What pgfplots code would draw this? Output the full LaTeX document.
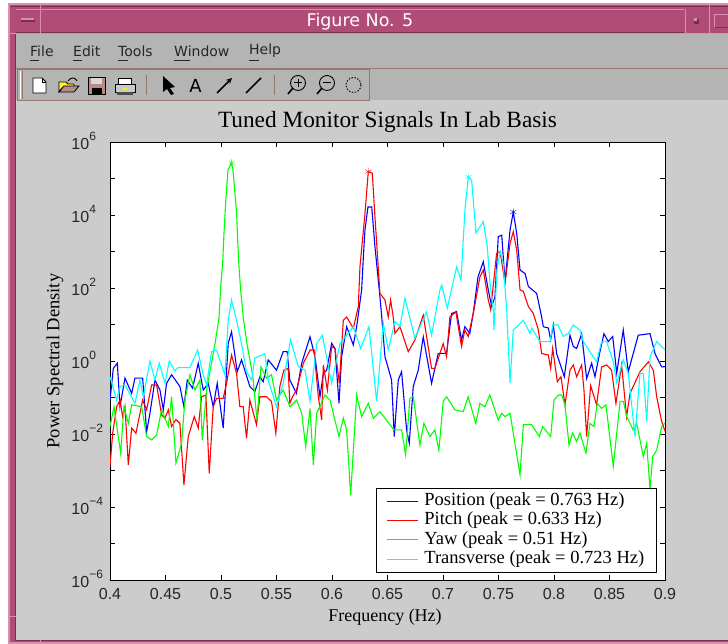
\documentclass[border=0pt]{standalone}
\usepackage{pgfplots}
\pgfplotsset{compat=1.18}
\usepackage{fontspec}
\setmainfont{Liberation Serif}
\newfontfamily\tickfont{Liberation Sans}
\newfontfamily\uifont{DejaVu Sans}
\definecolor{pinkbar}{HTML}{B04C75}
\definecolor{pinkdark}{HTML}{7A2E50}
\definecolor{pinklight}{HTML}{D98FB0}
\definecolor{menugray}{HTML}{B4B4B4}
\definecolor{panelgray}{HTML}{CCCCCC}
\definecolor{barline}{HTML}{96786E}
\definecolor{pureblue}{RGB}{0,0,255}
\definecolor{purered}{RGB}{255,0,0}
\definecolor{puregreen}{RGB}{0,255,0}
\definecolor{purecyan}{RGB}{0,255,255}
\newcommand{\tl}[1]{\makebox[31pt][l]{10\raisebox{1.05ex}{\fontsize{12}{12}\selectfont #1}}}
\begin{document}
\begin{tikzpicture}[x=1pt,y=1pt]
\path[use as bounding box] (0,0) rectangle (728,644);
\begin{scope}[y=-1pt,shift={(0pt,644pt)}]
\fill[white] (0,0) rectangle (728,644);
\fill[pinklight] (8,3) rectangle (728,644);
\fill[pinkbar] (10,5) rectangle (728,642);
\fill[panelgray] (16,33) rectangle (728,640);
\fill[menugray] (16,33) rectangle (728,101);
\draw[pinklight,line width=.8pt] (16,33) -- (728,33);
\draw[pinkdark,line width=.8pt] (16,32) -- (684,32) (15.5,33) -- (15.5,640) -- (728,640);
\draw[pinkdark,line width=.6pt] (10,6.5) -- (728,6.5);
\draw[pinklight,line width=.8pt] (16,9) -- (684,9) (40,3) -- (40,33) (685,9) -- (685,33) (709,3) -- (709,33) (8,33)--(16,33) (8,616)--(16,616) (40,640)--(40,644);
\fill[pinkdark] (21,19) rectangle (35,22);
\fill[pinklight] (21,18) rectangle (34,20.5);
\fill[pinkdark] (694,19) rectangle (699,24);
\fill[pinklight] (694,18) rectangle (697,21);
\draw[pinklight,line width=.8pt] (714,27) -- (714,14) -- (728,14);
\draw[pinkdark,line width=.8pt] (715,27) -- (728,27);
\node[white,font=\uifont\fontsize{17.5}{17.5}\selectfont] at (360,22) {Figure No. 5};
% menu
\begin{scope}[every node/.style={anchor=west,inner sep=0pt,font=\uifont\fontsize{14}{14}\selectfont,text=black!85}]
\node at (30,51) {File};
\node at (73,51) {Edit};
\node at (118,51) {Tools};
\node at (174,51) {Window};
\node at (249,51) {Help};
\end{scope}
\draw[black!85,line width=.8pt] (30,60) -- (39,60) (73,60) -- (82,60) (118,60) -- (128,60) (174,60) -- (190,60) (249,60) -- (259,60);
% toolbar
\draw[barline,line width=.8pt] (16,68.5) -- (728,68.5);
\fill[menugray] (16,69) rectangle (728,100.5);
\fill[panelgray] (16,100.5) rectangle (728,101);
\draw[barline,line width=.8pt] (17.5,69) rectangle (369,100.5);
\draw[barline,line width=.8pt] (146,75) -- (146,95) (274,75) -- (274,95) (22.5,71) -- (22.5,99);
\draw[white,line width=.8pt] (20,71) -- (20,99);
% new
\draw[black,fill=white,line width=.9pt] (33,78) -- (42,78) -- (46,82) -- (46,93) -- (33,93) -- cycle;
\draw[black,line width=.7pt] (42,78) -- (42,82) -- (46,82);
% open
\draw[black,fill=yellow!80!white,line width=.8pt] (59,92) -- (59,82) -- (66,82) -- (68,84) -- (74,84) -- (74,88) -- (62,88) -- cycle;
\draw[black,fill=barline!70!pink,line width=.8pt] (59,92) -- (64,86) -- (79,86) -- (74,92) -- cycle;
\draw[black,line width=.9pt] (68,81) .. controls (71,77) and (75,77) .. (77,81);
% save
\draw[black,fill=barline!70!pink,line width=.9pt] (88,77) rectangle (105,94);
\fill[white!85!black] (91,78) rectangle (102,84);
\fill[black] (92,88) rectangle (102,94);
% print
\draw[black,fill=white,line width=.8pt] (118,78) rectangle (131,84);
\draw[black,fill=menugray!70,line width=.9pt] (115,84) rectangle (135,92);
\fill[black!70] (117,92) rectangle (133,95);
\fill[yellow] (123,88) rectangle (127,90);
% arrow
\fill[black] (163,76) -- (175,87) -- (170,88) -- (174,94) -- (171,95) -- (167,89) -- (163,92) -- cycle;
\node[black,font=\uifont\fontsize{18}{18}\selectfont,inner sep=0pt] at (195.5,85.5) {A};
\draw[black,line width=1.6pt,-stealth] (217,93) -- (232,78);
\draw[black,line width=1.6pt] (246,93) -- (261,78);
% zoom
\draw[black,line width=.9pt] (298,83) circle (7.5);
\draw[black,line width=1.6pt] (293,88) -- (288,94);
\draw[black,line width=1pt] (294,83) -- (302,83) (298,79) -- (298,87);
\draw[black,line width=.9pt] (327,83) circle (7.5);
\draw[black,line width=1.6pt] (322,88) -- (317,94);
\draw[black,line width=1pt] (323,83) -- (331,83);
\draw[black,line width=.9pt,dash pattern=on 1.5pt off 1.5pt] (353.5,85) circle (7.5);
\end{scope}
\begin{axis}[
  at={(110pt,64pt)},anchor=south west,
  scale only axis,width=555pt,height=438pt,
  ymode=log,xmin=0.4,xmax=0.9,ymin=1e-6,ymax=1e6,
  axis background/.style={fill=white},
  axis line style={black,line width=.8pt},
  tick align=inside,major tick length=5pt,
  tick style={black,line width=.7pt},
  yminorticks=false,
  xtick={0.4,0.45,0.5,0.55,0.6,0.65,0.7,0.75,0.8,0.85,0.9},
  xticklabels={0.4,0.45,0.5,0.55,0.6,0.65,0.7,0.75,0.8,0.85,0.9},
  ytick={1e-6,1e-5,1e-4,1e-3,1e-2,1e-1,1,1e1,1e2,1e3,1e4,1e5,1e6},
  yticklabels={\tl{−6},,\tl{−4},,\tl{−2},,\tl{0},,\tl{2},,\tl{4},,\tl{6}},
  ticklabel style={font=\tickfont\fontsize{16}{16}\selectfont,text=black!85},
  xticklabel style={yshift=-5pt},
  yticklabel style={xshift=-4pt,yshift=1pt},
  title={\fontsize{23.3}{23.3}\selectfont Tuned Monitor Signals In Lab Basis},
  xlabel={\fontsize{18}{18}\selectfont Frequency (Hz)},
  ylabel={\fontsize{18.5}{18.5}\selectfont Power Spectral Density},
  xlabel style={at={(axis description cs:0.4955,-0.0845)},anchor=center},
  ylabel style={at={(axis description cs:-0.0991,0.5)},anchor=center},
  legend style={at={(0.985,0.0167)},anchor=south east,draw=black,fill=white,line width=.8pt,
    font=\fontsize{18.5}{18.5}\selectfont,row sep=2.7pt,column sep=4pt,inner xsep=10pt,inner ysep=5pt,
    nodes={inner ysep=0pt,text height=12.5pt,text depth=4pt}},
  legend cell align=left,
  legend image code/.code={\draw[#1,line width=.9pt] (0pt,0pt) -- (31pt,0pt);},
]
\addplot[pureblue,line width=1.1pt] coordinates {
(.400,.085)(.403,.63)(.4066,.87)(.409,.056)(.4135,.34)(.4195,.13)(.4225,.34)(.4294,.34)(.433,.0115)(.436,.037)(.4405,.30)(.445,.16)(.448,.046)(.451,.245)(.4555,.42)(.463,.20)(.4666,.056)(.4696,.30)(.4744,.18)(.4795,.87)(.484,.16)(.4885,.245)(.493,.056)(.4966,.245)(.502,.0145)(.5065,3.05)(.5095,6.3)(.5146,.51)(.5185,1.07)(.526,.20)(.5305,.145)(.535,.37)(.538,.27)(.5425,1.07)(.55,.56)(.556,1.8)(.5596,1.8)(.562,.30)(.568,.13)(.5727,.87)(.5802,4.6)(.5847,1.32)(.5892,.105)(.5922,.46)(.5952,.56)(.5997,3.05)(.6027,2.2)(.6063,.069)(.6087,1.32)(.6132,8.7)(.6192,2.75)(.6222,8.7)(.6267,88)(.6283,740)(.6297,3900)(.6324,1.66e4)(.6358,1.66e4)(.6387,1350)(.6432,57)(.6448,16)(.6477,1.32)(.6537,.30)(.6561,.0085)(.6597,.30)(.6627,.51)(.6672,.013)(.6696,.0056)(.6732,.20)(.6777,.56)(.6822,4.6)(.6897,.245)(.6957,1.62)(.7032,1.62)(.7077,20)(.7122,22.6)(.7167,3.76)(.7197,8.7)(.7242,5.7)(.7273,21)(.7315,200)(.7363,525)(.7408,88)(.7439,31)(.7468,57)(.7498,2570)(.7529,2800)(.7559,150)(.7604,3900)(.7633,1.2e4)(.7664,3170)(.7694,310)(.7739,250)(.7769,110)(.7844,71)(.7889,16)(.7904,8.7)(.7949,8)(.7970,3.8)(.7994,9.7)(.8024,1.6)(.8093,.37)(.8144,5.1)(.8174,2.5)(.8204,2.2)(.8249,5.6)(.8294,.33)(.8339,.87)(.8369,.37)(.8414,1.8)(.8450,5.6)(.8489,3.4)(.8529,4.7)(.8565,.46)(.8624,7.1)(.8669,.51)(.8759,5.1)(.8865,5.6)(.8910,1.6)(.8970,.69)(.9,.7)
};
\addlegendentry{Position (peak = 0.763 Hz)}
\addplot[purered,line width=1.1pt] coordinates {
(.400,.0013)(.4024,.0105)(.406,.056)(.409,.085)(.4114,.03)(.4135,.056)(.4165,.0014)(.4195,.0145)(.4234,.0105)(.4294,.085)(.433,.046)(.4375,.22)(.442,.22)(.4465,.033)(.4495,.027)(.4525,.046)(.4555,.016)(.4594,.025)(.463,.0195)(.4666,.0004)(.4705,.0085)(.4759,.03)(.4795,.0145)(.4825,.105)(.4864,.117)(.4894,.00083)(.493,.056)(.496,.095)(.502,.095)(.505,.245)(.5095,1.46)(.514,.46)(.517,.056)(.520,.056)(.523,.0076)(.526,.085)(.532,.018)(.535,.105)(.541,.105)(.5455,.078)(.5494,.0105)(.553,.20)(.5566,.56)(.5605,.63)(.562,.069)(.5644,.105)(.568,.16)(.5742,.87)(.5802,2)(.5838,2)(.5877,.105)(.5907,.024)(.5922,.78)(.5958,.16)(.5997,2.5)(.6027,2.2)(.6066,.245)(.6102,13)(.6132,16)(.6192,7.9)(.6237,31)(.6252,380)(.6297,1.1e4)(.6327,1.55e5)(.6363,1.4e5)(.6387,8900)(.6432,71)(.6477,47)(.6507,16)(.6528,47)(.6552,16)(.6567,5.7)(.6612,8.7)(.6687,1.8)(.6747,3.76)(.6822,18)(.6897,.63)(.6927,.63)(.7002,3)(.7032,1.3)(.7062,16)(.7116,22)(.7167,2.5)(.7197,7)(.7227,4.7)(.7273,20)(.7333,205)(.7363,310)(.7408,47)(.7430,25)(.7483,890)(.7514,1000)(.7559,135)(.7604,1660)(.7633,3500)(.7664,1100)(.7694,89)(.7724,80)(.7769,31)(.7814,20)(.7859,7.1)(.7889,1.6)(.7949,1.46)(.7970,.63)(.7988,2.2)(.8030,.27)(.8063,.37)(.8099,.063)(.8144,.56)(.8174,.78)(.8204,.37)(.8249,.78)(.8270,.16)(.8294,.0085)(.8330,.21)(.8384,.063)(.8429,.69)(.8474,.78)(.8519,.56)(.8558,.069)(.8609,.78)(.8654,.03)(.8685,.13)(.8775,.51)(.8850,.95)(.8895,.56)(.8925,.105)(.8970,.022)(.9,.012)
};
\addlegendentry{Pitch (peak = 0.633 Hz)}
\addplot[puregreen,line width=1.1pt] coordinates {
(.400,.016)(.4036,.056)(.4096,.003)(.4126,.056)(.4165,.0195)(.4195,.063)(.4285,.056)(.433,.0085)(.4375,.0069)(.442,.0094)(.4465,.046)(.4525,.016)(.4555,.105)(.4594,.0016)(.4645,.0056)(.4675,.085)(.472,.42)(.4765,.16)(.481,.30)(.4831,.0069)(.487,.16)(.4946,3)(.4982,15)(.4997,107)(.5015,480)(.5027,3200)(.5045,3.1e4)(.5063,1.7e5)(.5096,2.7e5)(.5108,1.7e5)(.5141,1.1e4)(.515,2100)(.5162,380)(.5177,89)(.5201,15)(.5234,3)(.5288,.36)(.5324,.024)(.536,.69)(.541,.34)(.5455,.42)(.55,.085)(.556,.16)(.5622,.056)(.5682,.085)(.5727,.037)(.5763,.0045)(.5802,.05)(.5832,.0014)(.5862,.037)(.5937,.117)(.5982,.085)(.6063,.0085)(.6102,.027)(.6132,.013)(.6168,.00021)(.6207,.0195)(.6222,.117)(.6267,.03)(.6327,.069)(.6372,.027)(.6432,.041)(.6522,.018)(.6558,.013)(.6627,.013)(.6663,.0027)(.6702,.095)(.6732,.105)(.6792,.005)(.6828,.0195)(.6882,.0085)(.6927,.013)(.6963,.0036)(.7002,.078)(.7032,.105)(.7107,.046)(.7182,.041)(.7227,.105)(.7296,.0195)(.7332,.069)(.7377,.056)(.7422,.117)(.7498,.024)(.7529,.037)(.7559,.03)(.7604,.037)(.7694,.00076)(.7724,.018)(.7799,.018)(.7868,.0085)(.7898,.016)(.7970,.0085)(.80,.085)(.8039,.117)(.8069,.117)(.8099,.063)(.8135,.005)(.8168,.0107)(.8204,.0062)(.8234,.0107)(.8288,.003)(.8324,.0195)(.8360,.016)(.8390,.069)(.8429,.05)(.8468,.063)(.8534,.0013)(.8595,.078)(.8625,.078)(.8655,.03)(.8714,.013)(.8745,.0195)(.8805,.0024)(.8835,.0056)(.8865,.0003)(.8889,.0024)(.8925,.0036)(.8970,.016)(.9,.02)
};
\addlegendentry{Yaw (peak = 0.51 Hz)}
\addplot[purecyan,line width=1.1pt] coordinates {
(.400,.37)(.406,.085)(.409,.2)(.4135,.22)(.4225,.069)(.427,.3)(.43,.105)(.436,1)(.4405,.3)(.4444,.87)(.4495,.245)(.4534,1)(.4585,.53)(.4615,.66)(.472,.66)(.4789,2)(.484,.42)(.487,.22)(.4915,1.8)(.496,2)(.5035,.42)(.5065,13)(.5095,47)(.514,13)(.5185,3)(.523,.51)(.5275,.3)(.5305,1.2)(.5395,1.6)(.5425,.3)(.55,.056)(.556,.245)(.5626,3.76)(.5697,.7)(.5757,.56)(.5802,.078)(.5862,3)(.5913,5.1)(.5997,.245)(.6072,3)(.6192,8.7)(.6258,2.2)(.6333,8.7)(.6402,.078)(.6462,11)(.6507,2)(.6567,12)(.6612,8.7)(.6657,52)(.6747,4.2)(.6852,22)(.6897,5.1)(.6972,88)(.6988,120)(.7039,28)(.7123,380)(.7162,165)(.7198,1.4e4)(.7228,1.1e5)(.7258,9e4)(.7297,3200)(.7363,6600)(.7399,1350)(.7423,140)(.7453,25)(.7459,7)(.7486,310)(.7514,1000)(.7541,510)(.7574,25)(.7604,.25)(.7633,7)(.7724,13)(.7784,5.7)(.7799,8)(.7874,3.4)(.7964,3.4)(.7991,9.7)(.8036,9.7)(.8084,4.7)(.8129,5.7)(.8174,9.7)(.8234,7)(.8264,3.4)(.8384,.95)(.8429,3.4)(.8474,3.4)(.8534,.95)(.8565,.25)(.8624,1.07)(.8669,.46)(.8730,.0085)(.8775,.46)(.8805,.46)(.8835,.022)(.8865,1.3)(.8925,3.4)(.8970,2.5)(.9,2)
};
\addlegendentry{Transverse (peak = 0.723 Hz)}
\addplot[only marks,pureblue,mark=asterisk,mark size=3.5pt,forget plot] coordinates {(.7633,1.2e4)};
\addplot[only marks,purered,mark=asterisk,mark size=3.5pt,forget plot] coordinates {(.6327,1.55e5)};
\addplot[only marks,puregreen,mark=asterisk,mark size=3.5pt,forget plot] coordinates {(.5096,2.7e5)};
\addplot[only marks,purecyan,mark=asterisk,mark size=3.5pt,forget plot] coordinates {(.7228,1.1e5)};
\end{axis}
\end{tikzpicture}
\end{document}
